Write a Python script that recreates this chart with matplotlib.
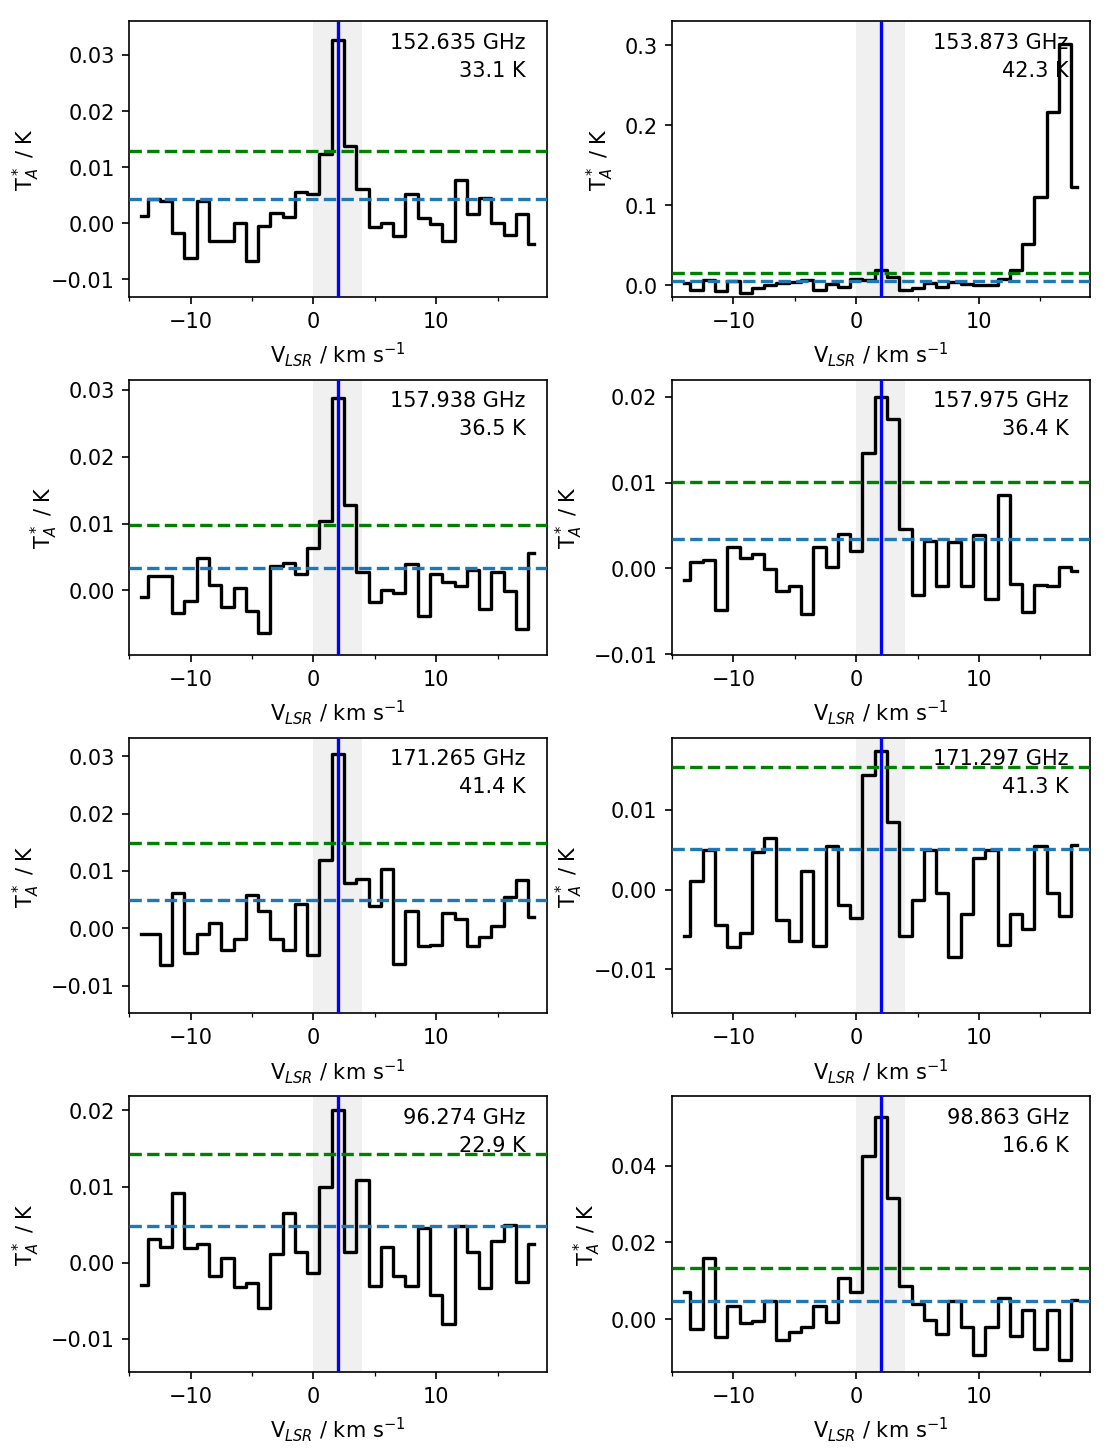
import numpy as np
import matplotlib.pyplot as plt
from matplotlib.ticker import MultipleLocator

# channel velocities (km/s)
vel = [-14, -13, -12, -11, -10, -9, -8, -7, -6, -5, -4, -3, -2, -1, 0, 1, 2,
       3, 4, 5, 6, 7, 8, 9, 10, 11, 12, 13, 14, 15, 16, 17, 18]

freqs = ["152.635 GHz", "153.873 GHz", "157.938 GHz", "157.975 GHz",
         "171.265 GHz", "171.297 GHz", "96.274 GHz", "98.863 GHz"]
eup = ["33.1 K", "42.3 K", "36.5 K", "36.4 K", "41.4 K", "41.3 K", "22.9 K", "16.6 K"]

spec1 = [0.0013, 0.0044, 0.0040, -0.0018, -0.0061, 0.0040, -0.0031, -0.0031, 0.0000,
         -0.0067, -0.0005, 0.0018, 0.0012, 0.0055, 0.0052, 0.0123, 0.0327, 0.0137,
         0.0062, -0.0006, 0.0001, -0.0023, 0.0053, 0.0009, -0.0002, -0.0031, 0.0078,
         0.0017, 0.0046, 0.0001, -0.0021, 0.0017, -0.0036]
spec2 = [0.0029, -0.0054, 0.0071, -0.0075, 0.0050, -0.0096, -0.0033, 0.0000, 0.0029,
         0.0042, 0.0062, -0.0062, 0.0012, -0.0021, 0.0083, 0.0062, 0.0187, 0.0104,
         -0.0054, -0.0029, 0.0029, -0.0021, 0.0042, 0.0012, 0.0000, 0.0000, 0.0075,
         0.0187, 0.0519, 0.1101, 0.2169, 0.3012, 0.1226]
spec3 = [-0.0010, 0.0022, 0.0022, -0.0033, -0.0016, 0.0048, 0.0008, -0.0024, 0.0003,
         -0.0031, -0.0064, 0.0037, 0.0041, 0.0025, 0.0064, 0.0104, 0.0287, 0.0127,
         0.0027, -0.0017, 0.0001, -0.0004, 0.0039, -0.0038, 0.0024, 0.0012, 0.0006,
         0.0030, -0.0028, 0.0028, -0.0001, -0.0057, 0.0056]
spec4 = [-0.0013, 0.0007, 0.0010, -0.0049, 0.0025, 0.0012, 0.0017, -0.0001, -0.0026,
         -0.0021, -0.0053, 0.0025, 0.0002, 0.0040, 0.0020, 0.0135, 0.0200, 0.0174,
         0.0046, -0.0031, 0.0032, -0.0020, 0.0031, -0.0020, 0.0039, -0.0036, 0.0085,
         -0.0018, -0.0051, -0.0019, -0.0021, 0.0002, -0.0003]
spec5 = [-0.0010, -0.0010, -0.0064, 0.0062, -0.0043, -0.0009, 0.0009, -0.0038, -0.0019,
         0.0059, 0.0031, -0.0019, -0.0037, 0.0043, -0.0047, 0.0119, 0.0303, 0.0079,
         0.0086, 0.0039, 0.0103, -0.0062, 0.0031, -0.0031, -0.0029, 0.0026, 0.0017,
         -0.0030, -0.0015, 0.0005, 0.0055, 0.0085, 0.0019]
spec6 = [-0.0058, 0.0011, 0.0049, -0.0044, -0.0072, -0.0055, 0.0047, 0.0065, -0.0038,
         -0.0065, 0.0023, -0.0071, 0.0054, -0.0019, -0.0035, 0.0143, 0.0174, 0.0085,
         -0.0058, -0.0013, 0.0050, -0.0004, -0.0085, -0.0030, 0.0040, 0.0049, -0.0070,
         -0.0030, -0.0049, 0.0054, -0.0004, -0.0033, 0.0056]
spec7 = [-0.0029, 0.0031, 0.0021, 0.0092, 0.0020, 0.0024, -0.0017, 0.0006, -0.0032,
         -0.0026, -0.0060, 0.0012, 0.0066, 0.0014, -0.0013, 0.0100, 0.0200, 0.0014,
         0.0109, -0.0031, 0.0021, -0.0017, -0.0030, 0.0046, -0.0042, -0.0081, 0.0048,
         0.0014, -0.0033, 0.0029, 0.0050, -0.0025, 0.0024]
spec8 = [0.0071, -0.0026, 0.0160, -0.0048, 0.0033, -0.0010, -0.0006, 0.0048, -0.0054,
         -0.0035, -0.0022, 0.0035, -0.0007, 0.0108, 0.0071, 0.0426, 0.0527, 0.0315,
         0.0086, 0.0039, -0.0003, -0.0039, 0.0048, -0.0020, -0.0093, -0.0020, 0.0054,
         -0.0043, 0.0023, -0.0078, 0.0024, -0.0108, 0.0050]
spectra = [spec1, spec2, spec3, spec4, spec5, spec6, spec7, spec8]

rms = [0.00427, 0.0052, 0.00338, 0.00338, 0.0050, 0.0051, 0.0048, 0.0046]
three_sigma = [0.01286, 0.0155, 0.00975, 0.01005, 0.0149, 0.0154, 0.0143, 0.0134]

ylims = [(-0.0131, 0.0360), (-0.0145, 0.330), (-0.00965, 0.0315), (-0.0101, 0.0220),
         (-0.0148, 0.0332), (-0.0155, 0.0190), (-0.0143, 0.0219), (-0.0137, 0.0581)]

vsys = 2.0
vwin = (0.0, 4.0)

fig, axes = plt.subplots(4, 2, figsize=(7.42, 9.69), dpi=150)
plt.subplots_adjust(left=0.116, right=0.979, top=0.985, bottom=0.056,
                    wspace=0.30, hspace=0.30)

for i, ax in enumerate(axes.flat):
    ax.axvspan(vwin[0], vwin[1], color='#f0f0f0', lw=0, zorder=0)
    ax.plot(vel, spectra[i], color='k', drawstyle='steps-mid', lw=1.6, zorder=2)
    ax.axhline(three_sigma[i], color='green', ls='--', lw=1.6, zorder=3)
    ax.axhline(rms[i], color='tab:blue', ls='--', lw=1.6, zorder=3)
    ax.axvline(vsys, color='blue', lw=1.6, zorder=4)
    ax.text(0.95, 0.96, freqs[i] + "\n" + eup[i], transform=ax.transAxes,
            ha='right', va='top', multialignment='right', fontsize=10,
            linespacing=1.5, zorder=5)
    ax.set_xlim(-15, 19)
    ax.set_ylim(ylims[i])
    ax.xaxis.set_major_locator(MultipleLocator(10))
    ax.xaxis.set_minor_locator(MultipleLocator(5))
    ax.set_xlabel(r"V$_{LSR}$ / km s$^{-1}$")
    ax.set_ylabel(r"T$_A^*$ / K")

plt.savefig("out.png", dpi=150)
